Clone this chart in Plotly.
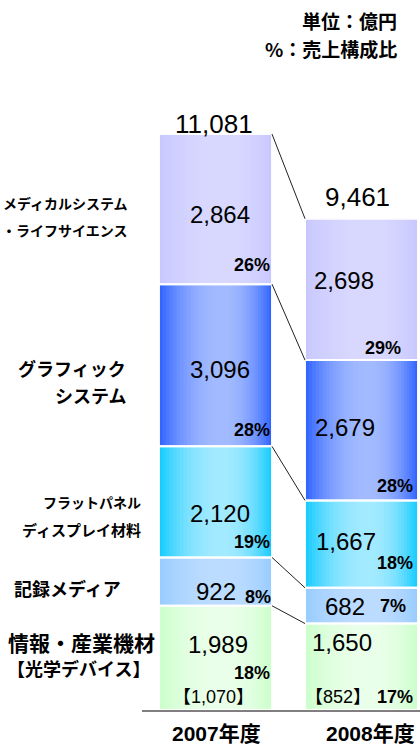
import plotly.graph_objects as go

# ---- data (stacked bottom -> top) ----
years = ["2007年度", "2008年度"]
segments = ["情報・産業機材", "記録メディア", "フラットパネルディスプレイ材料",
            "グラフィックシステム", "メディカルシステム・ライフサイエンス"]
sales_2007 = [1989, 922, 2120, 3096, 2864]
sales_2008 = [1650, 682, 1667, 2679, 2698]
share_2007 = [18, 8, 19, 28, 26]
share_2008 = [17, 7, 18, 28, 29]
totals = [11081, 9461]
optical_devices = [1070, 852]

# ---- styles ----
edge_colors = [(204, 255, 204), (153, 204, 255), (25, 204, 255), (51, 102, 255), (200, 200, 255)]
mid_colors = [(234, 255, 234), (188, 220, 255), (162, 234, 255), (162, 186, 255), (216, 216, 255)]
W, H = 420, 747
ML, MR, MT, MB = 142, 0, 40, 37
HW = 0.387            # half bar width in axis units
X_RANGE = [-0.5034, 1.4007]
Y_MAX = 12786
NUM_FONT = "Liberation Sans, Arial, sans-serif"
JP_FONT = "Noto Sans CJK JP, sans-serif"

series = [sales_2007, sales_2008]
xs, ys, bases, seg_idx = [], [], [], []
cum = []
for i, vals in enumerate(series):
    b = 0
    c = [0]
    for j, v in enumerate(vals):
        xs.append(i)
        ys.append(v)
        bases.append(b)
        seg_idx.append(j)
        b += v
        c.append(b)
    cum.append(c)


def mix(a, b, t):
    return "rgb({},{},{})".format(*[round(a[k] + (b[k] - a[k]) * t) for k in range(3)])


fig = go.Figure()

# horizontal shading: nested bars getting lighter towards the highlight
N = 18
peak = 0.56
for k in range(N):
    t = k / (N - 1)
    left = -HW + 2 * HW * peak * k / N
    right = HW - 2 * HW * (1 - peak) * k / N
    ease = 1 - (1 - t) ** 2
    cols = [mix(edge_colors[j], mid_colors[j], ease) for j in seg_idx]
    fig.add_trace(go.Bar(
        x=xs, y=ys, base=bases, offset=left, width=right - left,
        marker=dict(color=cols, line=dict(width=0)),
        hoverinfo="skip", showlegend=False,
    ))

# segment outlines
fig.add_trace(go.Bar(
    x=xs, y=ys, base=bases, offset=-HW, width=2 * HW,
    marker=dict(color="rgba(0,0,0,0)", line=dict(color="rgba(255,255,255,0.95)", width=2)),
    hoverinfo="skip", showlegend=False,
))

# connector lines between the two stacks
lx, ly = [], []
for j in range(1, len(cum[0])):
    lx += [HW, 1 - HW, None]
    ly += [cum[0][j], cum[1][j], None]
fig.add_trace(go.Scatter(x=lx, y=ly, mode="lines", line=dict(color="#222222", width=1),
                         hoverinfo="skip", showlegend=False))

ann = []


def seg_mid(i, j):
    return bases[i * 5 + j] + series[i][j] / 2


# value labels (pixel shifts per bar, per segment)
val_dx = [[2.5, 0.5, 4.5, 4.5, 4.5], [-19.5, -16.5, -15.5, -16.5, -17.5]]
val_dy = [[12.9, -9.4, -12, -3.8, -5.5], [23.8, -0.4, 3.1, 3.2, 8.4]]
pct_dx = [[0, 1, 0, 0, 0], [-3, -10, -3, -3, -15]]
pct_dy = [[-15.1, -15.4, -40.1, -64.8, -56.0], [-30.3, -0.4, -18.9, -55.8, -58.7]]
shares = [share_2007, share_2008]
for i in range(2):
    for j in range(5):
        ann.append(dict(x=i, y=seg_mid(i, j), xref="x", yref="y",
                        text=f"{series[i][j]:,}", showarrow=False,
                        xshift=val_dx[i][j], yshift=val_dy[i][j],
                        font=dict(family=NUM_FONT, size=24, color="#000")))
        ann.append(dict(x=i + HW, y=seg_mid(i, j), xref="x", yref="y",
                        text=f"{shares[i][j]}%", showarrow=False, xanchor="right",
                        xshift=pct_dx[i][j], yshift=pct_dy[i][j],
                        font=dict(family=NUM_FONT, size=18, color="#000", weight="bold")))

# optical devices sub-figure
opt_dx = [-2.5, -23.5]
opt_dy = [-39.1, -30.3]
for i in range(2):
    ann.append(dict(x=i, y=seg_mid(i, 0), xref="x", yref="y",
                    text=f"【{optical_devices[i]:,}】", showarrow=False,
                    xshift=opt_dx[i], yshift=opt_dy[i],
                    font=dict(family=NUM_FONT + ", " + JP_FONT, size=18, color="#000")))

# totals above the stacks
tot_dx = [-1.5, -4]
tot_dy = [10, 21.7]
for i in range(2):
    ann.append(dict(x=i, y=cum[i][-1], xref="x", yref="y",
                    text=f"{totals[i]:,}", showarrow=False,
                    xshift=tot_dx[i], yshift=tot_dy[i],
                    font=dict(family=NUM_FONT, size=26, color="#000")))

# year labels under the axis
yr_dx = [0.5, 8.5]
for i in range(2):
    ann.append(dict(x=i, y=0, xref="x", yref="y", text=years[i], showarrow=False,
                    yanchor="middle", xshift=yr_dx[i], yshift=-23,
                    font=dict(family=NUM_FONT + ", " + JP_FONT, size=21, color="#000",
                              weight="bold")))


def px_x(px):
    return (px - ML) / (W - ML - MR)


def px_y(py):
    return (H - MB - py) / (H - MT - MB)


# category names on the left
left_labels = [
    ("メディカルシステム", 130, 203, 14),
    ("・ライフサイエンス", 130, 230, 14),
    ("グラフィック", 128, 368, 18),
    ("システム", 128, 395, 18),
    ("フラットパネル", 143, 502, 14),
    ("ディスプレイ材料", 143, 529, 15),
    ("記録メディア", 123, 588, 18),
    ("情報・産業機材", 157, 642, 21),
    ("【光学デバイス】", 152, 668, 18),
]
for text, rx, cy, size in left_labels:
    ann.append(dict(x=px_x(rx), y=px_y(cy), xref="paper", yref="paper", text=text,
                    showarrow=False, xanchor="right", yanchor="middle",
                    font=dict(family=JP_FONT, size=size, color="#000", weight="bold")))

# unit notes
for text, cy in [("単位：億円", 21), ("%：売上構成比", 49)]:
    ann.append(dict(x=px_x(399), y=px_y(cy), xref="paper", yref="paper", text=text,
                    showarrow=False, xanchor="right", yanchor="middle",
                    font=dict(family=JP_FONT, size=19, color="#000", weight="bold")))

fig.update_layout(
    width=W, height=H,
    margin=dict(l=ML, r=MR, t=MT, b=MB, pad=0),
    barmode="overlay",
    plot_bgcolor="white", paper_bgcolor="white",
    xaxis=dict(range=X_RANGE, showgrid=False, zeroline=False, showticklabels=False,
               ticks="", showline=True, linecolor="#7f7f7f", linewidth=1.5, fixedrange=True),
    yaxis=dict(range=[0, Y_MAX], visible=False, fixedrange=True),
    annotations=ann,
    showlegend=False,
)

fig.write_html("out.html")
